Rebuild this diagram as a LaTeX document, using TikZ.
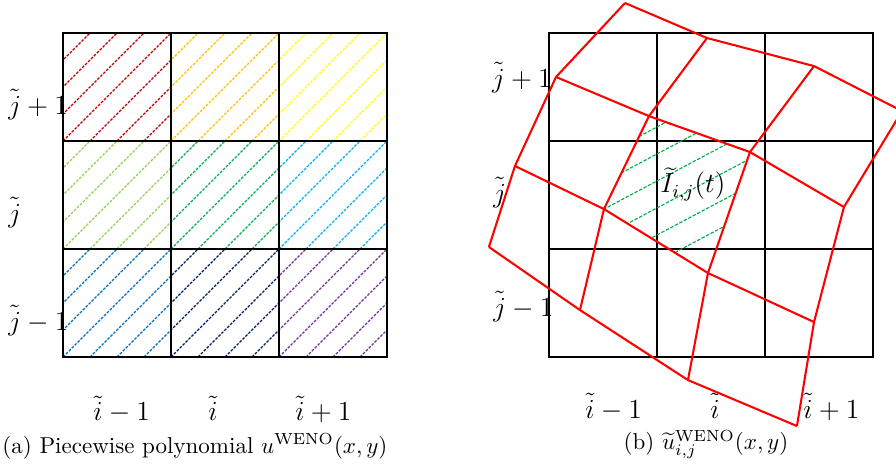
\documentclass[tikz,border=0pt]{standalone}
\usetikzlibrary{calc}
\definecolor{wDarkRed}{HTML}{C00000}
\definecolor{wOrange}{HTML}{FFC000}
\definecolor{wYellow}{HTML}{FFFF00}
\definecolor{wLightGreen}{HTML}{92D050}
\definecolor{wGreen}{HTML}{00B050}
\definecolor{wCyan}{HTML}{00B0F0}
\definecolor{wBlue}{HTML}{0070C0}
\definecolor{wNavy}{HTML}{002060}
\definecolor{wPurple}{HTML}{7030A0}
\begin{document}
\begin{tikzpicture}[x = 1.65cm, y = 1.65cm,
        gridline/.style = {black, line width = 1.1pt, line cap = rect},
        meshline/.style = {red, line width = 0.9pt, line join = round},
        hatchline/.style = {line width = 0.5pt, dash pattern = on 1.2pt off 0.6pt},
        ticklabel/.style = {font = \fontsize{11.5}{13}\selectfont, inner sep = 0pt}]
    \useasboundingbox (-0.583, -1.046) rectangle (7.713, 3.306);
    \foreach \c [count = \n from 0] in {wBlue, wNavy, wPurple, wLightGreen, wGreen, wCyan, wDarkRed, wOrange, wYellow}{
        \pgfmathtruncatemacro{\ci}{mod(\n, 3)}
        \pgfmathtruncatemacro{\cj}{div(\n, 3)}
        \begin{scope}
            \clip (\ci, \cj) rectangle ++(1, 1);
            \foreach \k in {-3, ..., 3}{
                \draw[hatchline, color = \c] (\ci + \k / 4, \cj) -- ++(1, 1);
            }
        \end{scope}
    }
    \foreach \k in {0, ..., 3}{
        \draw[gridline] (\k, 0) -- (\k, 3);
        \draw[gridline] (0, \k) -- (3, \k);
    }
    \node[ticklabel, anchor = base west] (lj2) at (-0.51, 2.25) {$\tilde{j}+1$};
    \node[ticklabel, anchor = base west] (lj1) at (-0.51, 1.25) {$\tilde{j}$};
    \node[ticklabel, anchor = base west] (lj0) at (-0.51, 0.25) {$\tilde{j}-1$};
    \node[ticklabel, anchor = base west] (li0) at (0.278, -0.59) {$\tilde{i}-1$};
    \node[ticklabel, anchor = base west] (li1) at (1.343, -0.59) {$\tilde{i}$};
    \node[ticklabel, anchor = base west] (li2) at (2.148, -0.59) {$\tilde{i}+1$};
    \node[anchor = base, inner sep = 0pt] (capa) at (1.222, -0.889) {(a) Piecewise polynomial $u^{\mathrm{WENO}}(x,y)$};
    \begin{scope}[shift = {(4.5, 0)}]
        \foreach \k in {0, ..., 3}{
            \draw[gridline] (\k, 0) -- (\k, 3);
            \draw[gridline] (0, \k) -- (3, \k);
        }
        \foreach \i/\j/\x/\y in {0/0/-0.556/1.019, 1/0/0.287/0.435, 2/0/1.287/-0.213, 3/0/2.296/-0.639,
                0/1/-0.315/1.769, 1/1/0.509/1.370, 2/1/1.472/0.778, 3/1/2.454/0.324,
                0/2/0.065/2.593, 1/2/0.926/2.231, 2/2/1.861/1.898, 3/2/2.731/1.389,
                0/3/0.704/3.278, 1/3/1.463/2.954, 2/3/2.454/2.694, 3/3/3.269/2.278}{
            \coordinate (p\i\j) at (\x, \y);
        }
        \begin{scope}
            \clip (p11) -- (p21) -- (p22) -- (p12) -- cycle;
            \foreach \n in {-3, ..., 2}{
                \pgfmathsetmacro{\off}{-0.53 + \n / 4}
                \draw[hatchline, color = wGreen, dash pattern = on 1.5pt off 0.7pt] ($(p11) + (-1, \off)$) -- ++(3, 1.59);
            }
        \end{scope}
        \node[ticklabel, anchor = base west] (rj2) at (-0.53, 2.5) {$\tilde{j}+1$};
        \node[ticklabel, anchor = base west] (rj1) at (-0.52, 1.435) {$\tilde{j}$};
        \node[ticklabel, anchor = base west] (rj0) at (-0.52, 0.38) {$\tilde{j}-1$};
        \node[ticklabel, anchor = base west] (ri0) at (0.333, -0.565) {$\tilde{i}-1$};
        \node[ticklabel, anchor = base west] (ri1) at (1.491, -0.565) {$\tilde{i}$};
        \node[ticklabel, anchor = base west] (ri2) at (2.352, -0.565) {$\tilde{i}+1$};
        \node[anchor = base west, inner sep = 0pt, font = \large] (cellI) at (1.028, 1.519) {$\widetilde{I}_{i,j}(t)$};
        \node[anchor = base, inner sep = 0pt] (capb) at (1.454, -0.86) {(b) $\widetilde{u}^{\mathrm{WENO}}_{i,j}(x,y)$};
        \foreach \j in {0, ..., 3}{
            \draw[meshline] (p0\j) -- (p1\j) -- (p2\j) -- (p3\j);
            \draw[meshline] (p\j0) -- (p\j1) -- (p\j2) -- (p\j3);
        }
    \end{scope}
\end{tikzpicture}
\end{document}
